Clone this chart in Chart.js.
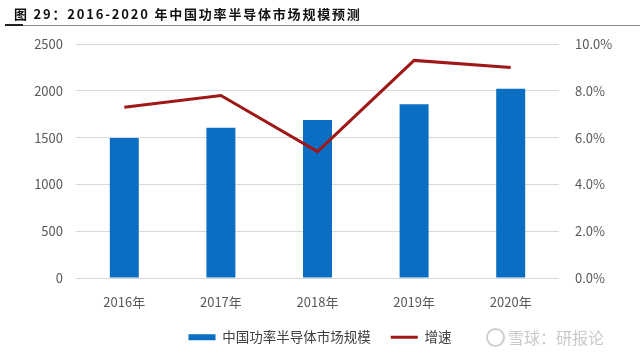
<!DOCTYPE html>
<html>
<head>
<meta charset="utf-8">
<script src="https://cdn.jsdelivr.net/npm/chart.js@4.4.1/dist/chart.umd.min.js"></script>
<style>
  html, body { margin: 0; padding: 0; background: #fff; }
  #wrap { position: relative; width: 640px; height: 356px; overflow: hidden; background: #fff; }
  #chart { position: absolute; left: 0; top: 0; }
  #title { position: absolute; left: 14px; top: 4px; font-family: "Noto Sans CJK SC", sans-serif; font-weight: 700; font-size: 13px; letter-spacing: 1.8px; color: #111; white-space: nowrap; line-height: 20px; }
  #rule { position: absolute; left: 5px; top: 25px; width: 635px; height: 1px; background: #8a8a8a; }
  #rule2 { position: absolute; left: 5px; top: 24px; width: 18px; height: 2px; background: #222; }
  #wm { position: absolute; left: 486px; top: 326px; font-family: "Noto Sans CJK SC", sans-serif; font-size: 16px; color: #c9c9c9; white-space: nowrap; line-height: 22px; }
  #wm .logo { display: inline-block; width: 15px; height: 15px; border: 2px solid #cfcfcf; border-radius: 50%; vertical-align: -3px; margin-right: 3px; }
</style>
</head>
<body>
<div id="wrap">
  <canvas id="chart" width="640" height="356"></canvas>
  <div id="title">图 29：2016-2020 年中国功率半导体市场规模预测</div>
  <div id="rule"></div>
  <div id="rule2"></div>
  <div id="wm"><span class="logo"></span>雪球：研报论</div>
</div>
<script>
const categories = ["2016年", "2017年", "2018年", "2019年", "2020年"];
const marketSize = [1496, 1606, 1688, 1856, 2022];
const growthRate = [7.3, 7.8, 5.4, 9.3, 9.0];
const seriesNames = ["中国功率半导体市场规模", "增速"];

const tickColor = "#595959";
const tickFont = { family: "'Noto Sans CJK SC', sans-serif", size: 13 };

new Chart(document.getElementById("chart"), {
  data: {
    labels: categories,
    datasets: [
      {
        type: "bar",
        label: seriesNames[0],
        data: marketSize,
        backgroundColor: "#0A6FC2",
        borderWidth: 0,
        barPercentage: 0.3,
        categoryPercentage: 1,
        yAxisID: "y",
        order: 2,
        pointStyle: "rect"
      },
      {
        type: "line",
        label: seriesNames[1],
        data: growthRate,
        borderColor: "#9E1818",
        backgroundColor: "#9E1818",
        borderWidth: 3,
        pointRadius: 0,
        tension: 0,
        yAxisID: "y1",
        order: 1,
        pointStyle: "line"
      }
    ]
  },
  options: {
    responsive: false,
    animation: false,
    layout: { padding: { top: 44, bottom: 2, left: 0, right: 0 } },
    plugins: {
      tooltip: { enabled: false },
      legend: {
        position: "bottom",
        labels: {
          usePointStyle: true,
          pointStyleWidth: 27,
          boxHeight: 6,
          padding: 20,
          color: "#404040",
          font: { family: "'Noto Sans CJK SC', sans-serif", size: 13.5 },
          sort: (a, b) => a.datasetIndex - b.datasetIndex
        }
      }
    },
    scales: {
      x: {
        grid: { display: false, drawTicks: false },
        border: { display: false },
        ticks: { color: tickColor, font: tickFont, padding: 16 },
        afterFit: (s) => { s.height = 32.5; }
      },
      y: {
        position: "left",
        min: 0, max: 2500,
        ticks: { stepSize: 500, color: tickColor, font: tickFont, padding: 13, callback: (v) => String(v) },
        grid: { color: "#d9d9d9", drawTicks: false },
        border: { display: false },
        afterFit: (s) => { s.width = 76; }
      },
      y1: {
        position: "right",
        min: 0, max: 10,
        ticks: { stepSize: 2, color: tickColor, font: tickFont, padding: 16, callback: (v) => v.toFixed(1) + "%" },
        grid: { drawOnChartArea: false, drawTicks: false },
        border: { display: false },
        afterFit: (s) => { s.width = 81; }
      }
    }
  }
});
</script>
</body>
</html>
